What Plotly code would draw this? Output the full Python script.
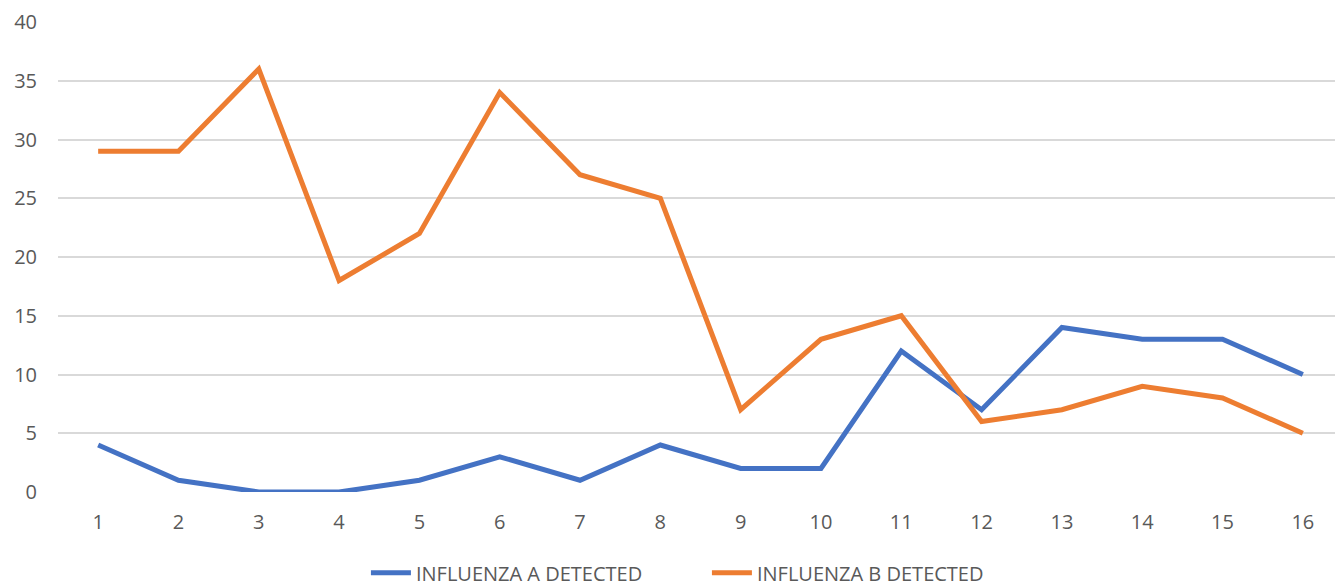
import plotly.graph_objects as go

weeks = list(range(1, 17))
flu_a = [4, 1, 0, 0, 1, 3, 1, 4, 2, 2, 12, 7, 14, 13, 13, 10]
flu_b = [29, 29, 36, 18, 22, 34, 27, 25, 7, 13, 15, 6, 7, 9, 8, 5]
y_ticks = [0, 5, 10, 15, 20, 25, 30, 35, 40]

fig = go.Figure()
fig.add_trace(go.Scatter(x=weeks, y=flu_a, mode="lines", name="INFLUENZA A DETECTED",
                         line=dict(color="#4472C4", width=5)))
fig.add_trace(go.Scatter(x=weeks, y=flu_b, mode="lines", name="INFLUENZA B DETECTED",
                         line=dict(color="#ED7D31", width=5)))

# page body has an 8px default margin; compensate so the plot sits where the reference has it
fig.update_layout(
    width=1335, height=578,
    margin=dict(l=50, r=0, t=14, b=94, autoexpand=False),
    paper_bgcolor="white", plot_bgcolor="white",
    font=dict(family="Open Sans", color="#595959", size=20),
    legend=dict(orientation="h", x=0.505, xanchor="center", y=-0.172, yanchor="middle",
                font=dict(size=20, color="#595959"), itemwidth=40, tracegroupgap=0,
                entrywidth=286, entrywidthmode="pixels"),
    showlegend=True,
)
fig.update_xaxes(range=[0.5, 16.5], tickvals=weeks, ticktext=[str(w) for w in weeks],
                 showgrid=False, zeroline=False, showline=False, ticks="", automargin=False,
                 ticklabelstandoff=16, tickfont=dict(size=20))
fig.update_yaxes(range=[0, 40], tickvals=y_ticks, showgrid=True, gridcolor="#D9D9D9",
                 gridwidth=1.5, zeroline=False, showline=False, ticks="", automargin=False,
                 ticklabelstandoff=20, tickfont=dict(size=20))

fig.write_html("out.html")
